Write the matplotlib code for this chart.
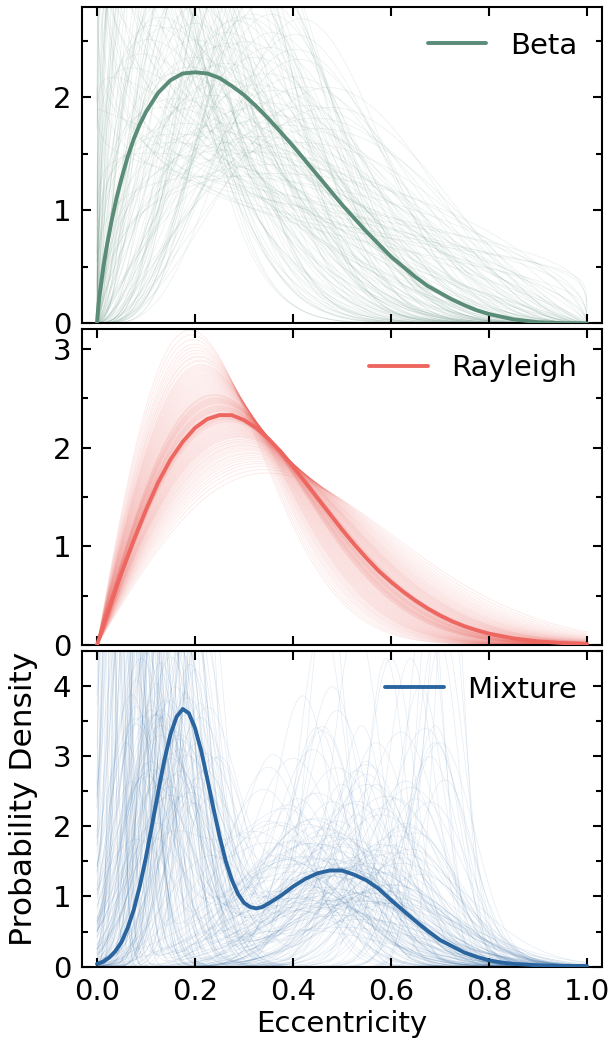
import math
import numpy as np
import matplotlib
matplotlib.use("Agg")
import matplotlib.pyplot as plt

# ---------------- data ----------------
# Bold summary curves (tabulated)
beta_x = [0, .0025, .005, .01, .015, .02, .03, .04, .05, .0625, .075, .0875, .1, .125, .15, .175,
          .2, .225, .25, .275, .3, .325, .35, .375, .4, .425, .45, .475, .5, .525, .55, .575,
          .6, .625, .65, .675, .7, .725, .75, .775, .8, .85, .9, .95, 1.0]
beta_y = [0, .14, .24, .40, .55, .68, .91, 1.11, 1.28, 1.47, 1.63, 1.76, 1.87, 2.04, 2.15, 2.21,
          2.22, 2.21, 2.17, 2.10, 2.02, 1.92, 1.81, 1.69, 1.57, 1.44, 1.31, 1.18, 1.05, .93, .81, .70,
          .59, .50, .41, .33, .27, .21, .16, .115, .082, .035, .010, .001, 0]

rayl_x = [0, .025, .05, .075, .1, .125, .15, .175, .2, .225, .25, .275, .3, .325, .35, .375,
          .4, .425, .45, .475, .5, .525, .55, .575, .6, .625, .65, .675, .7, .725, .75, .775,
          .8, .85, .9, .95, 1.0]
rayl_y = [0, .37, .73, 1.06, 1.37, 1.65, 1.88, 2.06, 2.20, 2.29, 2.33, 2.33, 2.28, 2.20, 2.09, 1.96,
          1.81, 1.65, 1.49, 1.33, 1.17, 1.02, .88, .75, .64, .54, .45, .37, .30, .24, .19, .15,
          .115, .067, .037, .02, .01]

mix_x = [0, .0125, .025, .0375, .05, .0625, .075, .0875, .1, .1125, .125, .1375, .15, .1625, .175,
         .1875, .2, .2125, .225, .2375, .25, .2625, .275, .2875, .3, .3125, .325, .3375, .35, .375,
         .4, .425, .45, .475, .5, .525, .55, .575, .6, .625, .65, .675, .7, .725, .75, .775, .8,
         .825, .85, .9, .95, 1.0]
mix_y = [.04, .07, .13, .22, .35, .55, .81, 1.15, 1.56, 2.02, 2.49, 2.94, 3.31, 3.56, 3.67,
         3.61, 3.40, 3.08, 2.68, 2.26, 1.86, 1.51, 1.24, 1.04, .91, .85, .83, .85, .90, 1.01,
         1.14, 1.25, 1.33, 1.37, 1.37, 1.31, 1.23, 1.11, .95, .80, .65, .51, .38, .29, .20, .14, .09,
         .06, .04, .02, .01, .01]

# Posterior draws (estimated shape parameters of the faint curves)
beta_a = [0.70, 0.80, 0.65, 0.90, 0.85, 0.95, 1.0, 1.05, 1.1, 1.15,
          1.2, 1.2, 1.25, 1.3, 1.3, 1.35, 1.4, 1.4, 1.45, 1.5,
          1.5, 1.55, 1.6, 1.6, 1.65, 1.7, 1.7, 1.75, 1.8, 1.8,
          1.85, 1.9, 1.9, 1.95, 2.0, 2.0, 2.05, 2.1, 2.1, 2.15,
          2.2, 2.2, 2.25, 2.3, 2.35, 2.4, 2.4, 2.5, 2.5, 2.55,
          2.6, 2.7, 2.7, 2.8, 2.9, 2.9, 3.0, 3.1, 3.2, 3.3,
          3.4, 3.5, 3.6, 3.8, 4.0, 4.2, 4.5, 4.8, 5.0, 5.5,
          1.2, 1.5, 2.0, 2.4, 3.0, 1.0, 3.5, 2.6, 1.6, 1.1,
          0.6, 0.75, 0.8, 0.7, 0.9, 0.85, 0.95, 0.75, 0.9, 0.8,
          1.1, 1.25, 1.35, 1.45, 1.55, 1.3, 1.5, 1.7, 1.9, 2.0,
          2.3, 2.6, 3.0, 3.2, 3.6, 4.0, 4.4, 4.6, 5.0, 5.6,
          6.0, 6.5, 6.0, 5.2, 4.8, 4.3, 3.9, 3.4, 3.0, 2.8,
          2.2, 1.8, 1.4, 1.2, 1.0, 0.9, 1.15, 1.35, 1.6, 1.9,
          2.3, 2.7, 3.1, 3.6, 4.0, 4.5, 5.0, 3.3, 2.5, 2.1,
          2.8, 3.2, 3.8, 4.4, 5.0, 2.2, 2.6, 1.8, 1.6, 1.4]
beta_b = [1.20, 1.35, 1.15, 1.60, 2.2, 2.8, 3.3, 2.5, 4.0, 3.0,
          2.1, 4.6, 3.5, 2.8, 5.2, 4.0, 3.1, 6.0, 4.5, 2.6,
          5.4, 3.8, 6.6, 3.2, 4.9, 2.9, 7.2, 4.2, 5.8, 3.6,
          8.0, 4.6, 3.0, 6.4, 4.0, 9.0, 5.2, 3.4, 7.0, 4.6,
          10.0, 5.8, 3.2, 8.0, 4.8, 6.5, 3.6, 9.5, 5.4, 4.2,
          7.5, 4.0, 11.0, 6.0, 4.6, 8.5, 5.2, 10.0, 6.6, 4.4,
          8.0, 5.6, 12.0, 7.0, 5.4, 9.0, 7.6, 11.0, 8.5, 10.0,
          1.6, 1.9, 2.4, 2.7, 3.2, 1.9, 3.8, 12.0, 8.5, 6.0,
          1.3, 1.5, 1.8, 2.0, 2.4, 1.25, 1.4, 2.6, 3.2, 2.9,
          1.8, 2.3, 2.6, 2.2, 2.4, 7.0, 8.0, 9.5, 11.0, 13.0,
          14.0, 15.0, 14.0, 12.5, 13.5, 15.0, 13.0, 11.5, 12.0, 13.0,
          14.0, 12.0, 10.5, 9.0, 8.2, 7.0, 6.2, 6.8, 7.8, 9.0,
          12.0, 10.5, 8.8, 7.5, 5.5, 4.2, 5.0, 6.2, 5.0, 6.0,
          6.8, 5.6, 5.8, 6.8, 8.0, 9.5, 10.5, 9.5, 7.8, 4.2,
          3.4, 4.0, 5.0, 6.0, 6.6, 2.9, 3.0, 2.6, 2.2, 1.7]

rayl_sigma = [0.190, 0.196, 0.201, 0.205, 0.208, 0.211, 0.214, 0.216, 0.218, 0.220,
              0.222, 0.224, 0.226, 0.227, 0.229, 0.230, 0.232, 0.233, 0.235, 0.236,
              0.237, 0.239, 0.240, 0.241, 0.242, 0.243, 0.244, 0.245, 0.246, 0.247,
              0.248, 0.249, 0.250, 0.251, 0.252, 0.253, 0.254, 0.255, 0.256, 0.257,
              0.258, 0.259, 0.260, 0.261, 0.262, 0.263, 0.264, 0.265, 0.266, 0.267,
              0.268, 0.269, 0.270, 0.272, 0.273, 0.275, 0.276, 0.278, 0.279, 0.281,
              0.283, 0.285, 0.287, 0.289, 0.291, 0.294, 0.297, 0.300, 0.304, 0.308,
              0.313, 0.319, 0.326, 0.335, 0.348,
              0.193, 0.199, 0.203, 0.207, 0.210, 0.213, 0.215, 0.217, 0.219, 0.221,
              0.223, 0.225, 0.228, 0.231, 0.234, 0.238, 0.240, 0.242, 0.244, 0.246,
              0.248, 0.250, 0.252, 0.254, 0.256, 0.258, 0.260, 0.262, 0.264, 0.266,
              0.268, 0.271, 0.274, 0.277, 0.280, 0.282, 0.284, 0.286, 0.288, 0.292,
              0.295, 0.299, 0.302, 0.306, 0.311, 0.316, 0.322, 0.330, 0.341, 0.245,
              0.251, 0.255, 0.259, 0.263, 0.247, 0.253, 0.261, 0.239, 0.243, 0.265]

mix_w = [0.55, 0.40, 0.62, 0.35, 0.70, 0.45, 0.30, 0.58, 0.50, 0.66,
         0.25, 0.48, 0.60, 0.38, 0.52, 0.72, 0.42, 0.56, 0.33, 0.64,
         0.47, 0.54, 0.28, 0.68, 0.44, 0.59, 0.36, 0.50, 0.75, 0.41,
         0.57, 0.46, 0.31, 0.63, 0.53, 0.39, 0.67, 0.49, 0.27, 0.61,
         0.43, 0.58, 0.34, 0.71, 0.45, 0.52, 0.37, 0.65, 0.48, 0.55,
         0.29, 0.62, 0.40, 0.57, 0.46, 0.69, 0.35, 0.51, 0.60, 0.43,
         0.54, 0.38, 0.66, 0.47, 0.58, 0.32, 0.63, 0.49, 0.56, 0.41,
         0.73, 0.45, 0.52, 0.36, 0.60, 0.44, 0.55, 0.48, 0.62, 0.39,
         0.60, 0.45, 0.70, 0.35, 0.55, 0.65, 0.40, 0.58, 0.48, 0.62,
         0.38, 0.72, 0.50, 0.44, 0.66, 0.30, 0.57, 0.46, 0.63, 0.41,
         0.54, 0.68, 0.36, 0.59, 0.49, 0.64, 0.42, 0.56, 0.70, 0.33,
         0.61, 0.47, 0.53, 0.39, 0.67, 0.44, 0.58, 0.51, 0.62, 0.37,
         0.55, 0.69, 0.43, 0.60, 0.48, 0.65, 0.34, 0.57, 0.52, 0.63,
         0.40, 0.71, 0.46, 0.58, 0.50, 0.61, 0.38, 0.66, 0.45, 0.54,
         0.68, 0.42, 0.59, 0.49, 0.64, 0.36, 0.56, 0.62, 0.47, 0.53,
         0.70, 0.41, 0.57, 0.48, 0.63, 0.39, 0.60, 0.52, 0.67, 0.44]
mix_m1 = [0.17, 0.12, 0.08, 0.20, 0.05, 0.15, 0.10, 0.22, 0.03, 0.13,
          0.18, 0.07, 0.16, 0.11, 0.24, 0.09, 0.02, 0.19, 0.14, 0.06,
          0.21, 0.12, 0.08, 0.17, 0.04, 0.15, 0.23, 0.10, 0.13, 0.19,
          0.01, 0.16, 0.11, 0.07, 0.20, 0.14, 0.05, 0.18, 0.09, 0.22,
          0.12, 0.17, 0.03, 0.15, 0.25, 0.08, 0.13, 0.19, 0.06, 0.16,
          0.10, 0.21, 0.04, 0.14, 0.18, 0.11, 0.23, 0.07, 0.16, 0.12,
          0.02, 0.20, 0.09, 0.15, 0.18, 0.06, 0.13, 0.22, 0.10, 0.17,
          0.05, 0.14, 0.19, 0.08, 0.16, 0.11, 0.21, 0.04, 0.13, 0.18,
          0.06, 0.10, 0.14, 0.02, 0.18, 0.09, 0.12, 0.04, 0.16, 0.07,
          0.13, 0.11, 0.20, 0.05, 0.15, 0.09, 0.17, 0.03, 0.12, 0.08,
          0.19, 0.06, 0.14, 0.10, 0.22, 0.04, 0.16, 0.11, 0.13, 0.07,
          0.18, 0.02, 0.15, 0.09, 0.12, 0.20, 0.05, 0.14, 0.17, 0.08,
          0.11, 0.03, 0.16, 0.13, 0.19, 0.06, 0.10, 0.15, 0.21, 0.08,
          0.12, 0.14, 0.04, 0.18, 0.09, 0.16, 0.11, 0.07, 0.20, 0.13,
          0.05, 0.17, 0.10, 0.15, 0.02, 0.12, 0.19, 0.08, 0.14, 0.06,
          0.16, 0.10, 0.21, 0.03, 0.13, 0.18, 0.09, 0.15, 0.11, 0.07]
mix_s1 = [0.05, 0.04, 0.03, 0.06, 0.02, 0.07, 0.05, 0.04, 0.015, 0.08,
          0.03, 0.05, 0.06, 0.02, 0.07, 0.04, 0.01, 0.09, 0.05, 0.03,
          0.05, 0.06, 0.02, 0.04, 0.03, 0.08, 0.06, 0.03, 0.05, 0.07,
          0.02, 0.03, 0.07, 0.04, 0.05, 0.09, 0.01, 0.06, 0.04, 0.08,
          0.02, 0.07, 0.02, 0.04, 0.06, 0.06, 0.03, 0.05, 0.02, 0.08,
          0.04, 0.07, 0.01, 0.06, 0.04, 0.05, 0.09, 0.03, 0.05, 0.07,
          0.02, 0.03, 0.06, 0.04, 0.08, 0.04, 0.02, 0.06, 0.05, 0.07,
          0.03, 0.05, 0.04, 0.08, 0.03, 0.06, 0.05, 0.02, 0.07, 0.04,
          0.03, 0.02, 0.04, 0.015, 0.06, 0.05, 0.03, 0.02, 0.07, 0.04,
          0.05, 0.03, 0.08, 0.01, 0.06, 0.02, 0.04, 0.03, 0.07, 0.04,
          0.05, 0.02, 0.06, 0.03, 0.07, 0.02, 0.05, 0.08, 0.03, 0.05,
          0.04, 0.01, 0.07, 0.03, 0.05, 0.06, 0.03, 0.02, 0.08, 0.04,
          0.06, 0.02, 0.04, 0.07, 0.03, 0.05, 0.02, 0.06, 0.04, 0.03,
          0.08, 0.04, 0.01, 0.05, 0.06, 0.03, 0.04, 0.02, 0.07, 0.05,
          0.03, 0.06, 0.02, 0.08, 0.02, 0.04, 0.05, 0.07, 0.03, 0.04,
          0.05, 0.06, 0.03, 0.02, 0.07, 0.04, 0.05, 0.02, 0.06, 0.03]
mix_m2 = [0.48, 0.45, 0.52, 0.55, 0.40, 0.60, 0.42, 0.50, 0.38, 0.62,
          0.47, 0.35, 0.68, 0.44, 0.58, 0.50, 0.32, 0.55, 0.40, 0.46,
          0.63, 0.70, 0.37, 0.52, 0.43, 0.57, 0.49, 0.66, 0.41, 0.53,
          0.36, 0.61, 0.45, 0.48, 0.72, 0.39, 0.54, 0.46, 0.59, 0.50,
          0.34, 0.64, 0.44, 0.56, 0.47, 0.69, 0.51, 0.42, 0.57, 0.38,
          0.49, 0.60, 0.46, 0.65, 0.53, 0.44, 0.58, 0.40, 0.71, 0.48,
          0.52, 0.45, 0.62, 0.36, 0.55, 0.67, 0.50, 0.43, 0.59, 0.47,
          0.54, 0.63, 0.41, 0.51, 0.57, 0.70, 0.46, 0.39, 0.53, 0.61,
          0.50, 0.64, 0.45, 0.55, 0.38, 0.60, 0.48, 0.42, 0.67, 0.52,
          0.35, 0.56, 0.47, 0.61, 0.44, 0.50, 0.69, 0.40, 0.54, 0.46,
          0.63, 0.37, 0.52, 0.58, 0.45, 0.49, 0.71, 0.43, 0.55, 0.62,
          0.40, 0.48, 0.57, 0.46, 0.66, 0.51, 0.39, 0.53, 0.60, 0.44,
          0.68, 0.47, 0.35, 0.56, 0.49, 0.62, 0.41, 0.54, 0.46, 0.59,
          0.50, 0.43, 0.57, 0.65, 0.38, 0.52, 0.70, 0.45, 0.55, 0.48,
          0.61, 0.42, 0.51, 0.58, 0.47, 0.64, 0.40, 0.53, 0.50, 0.68,
          0.44, 0.56, 0.49, 0.60, 0.46, 0.53, 0.37, 0.62, 0.50, 0.57]
mix_s2 = [0.14, 0.12, 0.10, 0.09, 0.15, 0.05, 0.18, 0.12, 0.13, 0.07,
          0.16, 0.10, 0.03, 0.08, 0.11, 0.20, 0.12, 0.06, 0.09, 0.17,
          0.08, 0.04, 0.14, 0.13, 0.11, 0.15, 0.07, 0.05, 0.19, 0.10,
          0.16, 0.09, 0.13, 0.08, 0.03, 0.11, 0.14, 0.18, 0.12, 0.06,
          0.09, 0.10, 0.15, 0.11, 0.04, 0.06, 0.17, 0.12, 0.08, 0.20,
          0.10, 0.13, 0.07, 0.09, 0.15, 0.05, 0.12, 0.11, 0.06, 0.16,
          0.13, 0.10, 0.14, 0.07, 0.18, 0.08, 0.09, 0.13, 0.04, 0.12,
          0.16, 0.11, 0.08, 0.14, 0.10, 0.07, 0.19, 0.09, 0.12, 0.15,
          0.15, 0.05, 0.12, 0.10, 0.09, 0.13, 0.06, 0.17, 0.04, 0.11,
          0.14, 0.08, 0.13, 0.12, 0.10, 0.16, 0.05, 0.12, 0.14, 0.07,
          0.09, 0.15, 0.11, 0.18, 0.06, 0.13, 0.04, 0.10, 0.12, 0.08,
          0.16, 0.09, 0.14, 0.05, 0.10, 0.17, 0.11, 0.07, 0.13, 0.12,
          0.06, 0.14, 0.08, 0.15, 0.10, 0.09, 0.18, 0.05, 0.11, 0.11,
          0.14, 0.09, 0.13, 0.07, 0.16, 0.10, 0.05, 0.15, 0.08, 0.12,
          0.14, 0.06, 0.17, 0.09, 0.11, 0.10, 0.13, 0.07, 0.15, 0.08,
          0.11, 0.16, 0.09, 0.12, 0.14, 0.05, 0.10, 0.13, 0.18, 0.07]

labels = ["Beta", "Rayleigh", "Mixture"]
colors = ["#5a8c78", "#ee6660", "#2a65a0"]
ylims = [2.8, 3.2, 4.5]

# ---------------- helpers ----------------
xs = np.linspace(1e-4, 1 - 1e-4, 800)


def beta_pdf(x, a, b):
    lb = math.lgamma(a) + math.lgamma(b) - math.lgamma(a + b)
    return np.exp((a - 1) * np.log(x) + (b - 1) * np.log(1 - x) - lb)


def rayleigh_pdf(x, s):
    return x / s**2 * np.exp(-x**2 / (2 * s**2))


def norm_pdf(x, m, s):
    return np.exp(-0.5 * ((x - m) / s) ** 2) / (s * math.sqrt(2 * math.pi))


# ---------------- figure ----------------
fig = plt.figure(figsize=(6.09, 10.4), dpi=100)
left, width = 0.1351, 0.8529
boxes = [(0.6891, 0.3044), (0.3798, 0.3036), (0.0705, 0.3038)]
axes = [fig.add_axes([left, b, width, h]) for b, h in boxes]

# faint posterior draws
for a, b in zip(beta_a, beta_b):
    axes[0].plot(xs, beta_pdf(xs, a, b), color=colors[0], lw=0.55, alpha=0.12, zorder=1)
for s in rayl_sigma:
    axes[1].plot(xs, rayleigh_pdf(xs, s), color=colors[1], lw=0.7, alpha=0.13, zorder=1)
for w, m1, s1, m2, s2 in zip(mix_w, mix_m1, mix_s1, mix_m2, mix_s2):
    y = w * norm_pdf(xs, m1, s1) + (1 - w) * norm_pdf(xs, m2, s2)
    axes[2].plot(xs, y, color=colors[2], lw=0.55, alpha=0.11, zorder=1)

# bold curves
for ax, x, y, lab, c in zip(axes, [beta_x, rayl_x, mix_x], [beta_y, rayl_y, mix_y], labels, colors):
    ax.plot(x, y, color=c, lw=2.8, label=lab, zorder=3, solid_capstyle="round",
            solid_joinstyle="round")

for i, ax in enumerate(axes):
    ax.set_xlim(-0.03, 1.03)
    ax.set_ylim(0, ylims[i])
    ax.set_xticks([0, 0.2, 0.4, 0.6, 0.8, 1.0])
    ax.yaxis.set_major_locator(matplotlib.ticker.MultipleLocator(1))
    ax.yaxis.set_minor_locator(matplotlib.ticker.MultipleLocator(0.5))
    ax.tick_params(which="both", direction="in", top=True, right=True, width=1.5,
                   labelsize=21, pad=8)
    ax.tick_params(which="major", length=6.5)
    ax.tick_params(which="minor", length=4.3)
    for sp in ax.spines.values():
        sp.set_linewidth(1.5)
    if i < 2:
        ax.tick_params(labelbottom=False)
    ax.legend(loc="upper right", frameon=False, fontsize=21, handlelength=2.0,
              handletextpad=0.8, borderaxespad=0.45)

axes[2].set_xticklabels(["0.0", "0.2", "0.4", "0.6", "0.8", "1.0"])
axes[2].set_xlabel("Eccentricity", fontsize=21, labelpad=3)
axes[2].set_ylabel("Probability Density", fontsize=22.5)
axes[2].yaxis.set_label_coords(-0.085, 0.53)

fig.savefig("out.png", dpi=100)
